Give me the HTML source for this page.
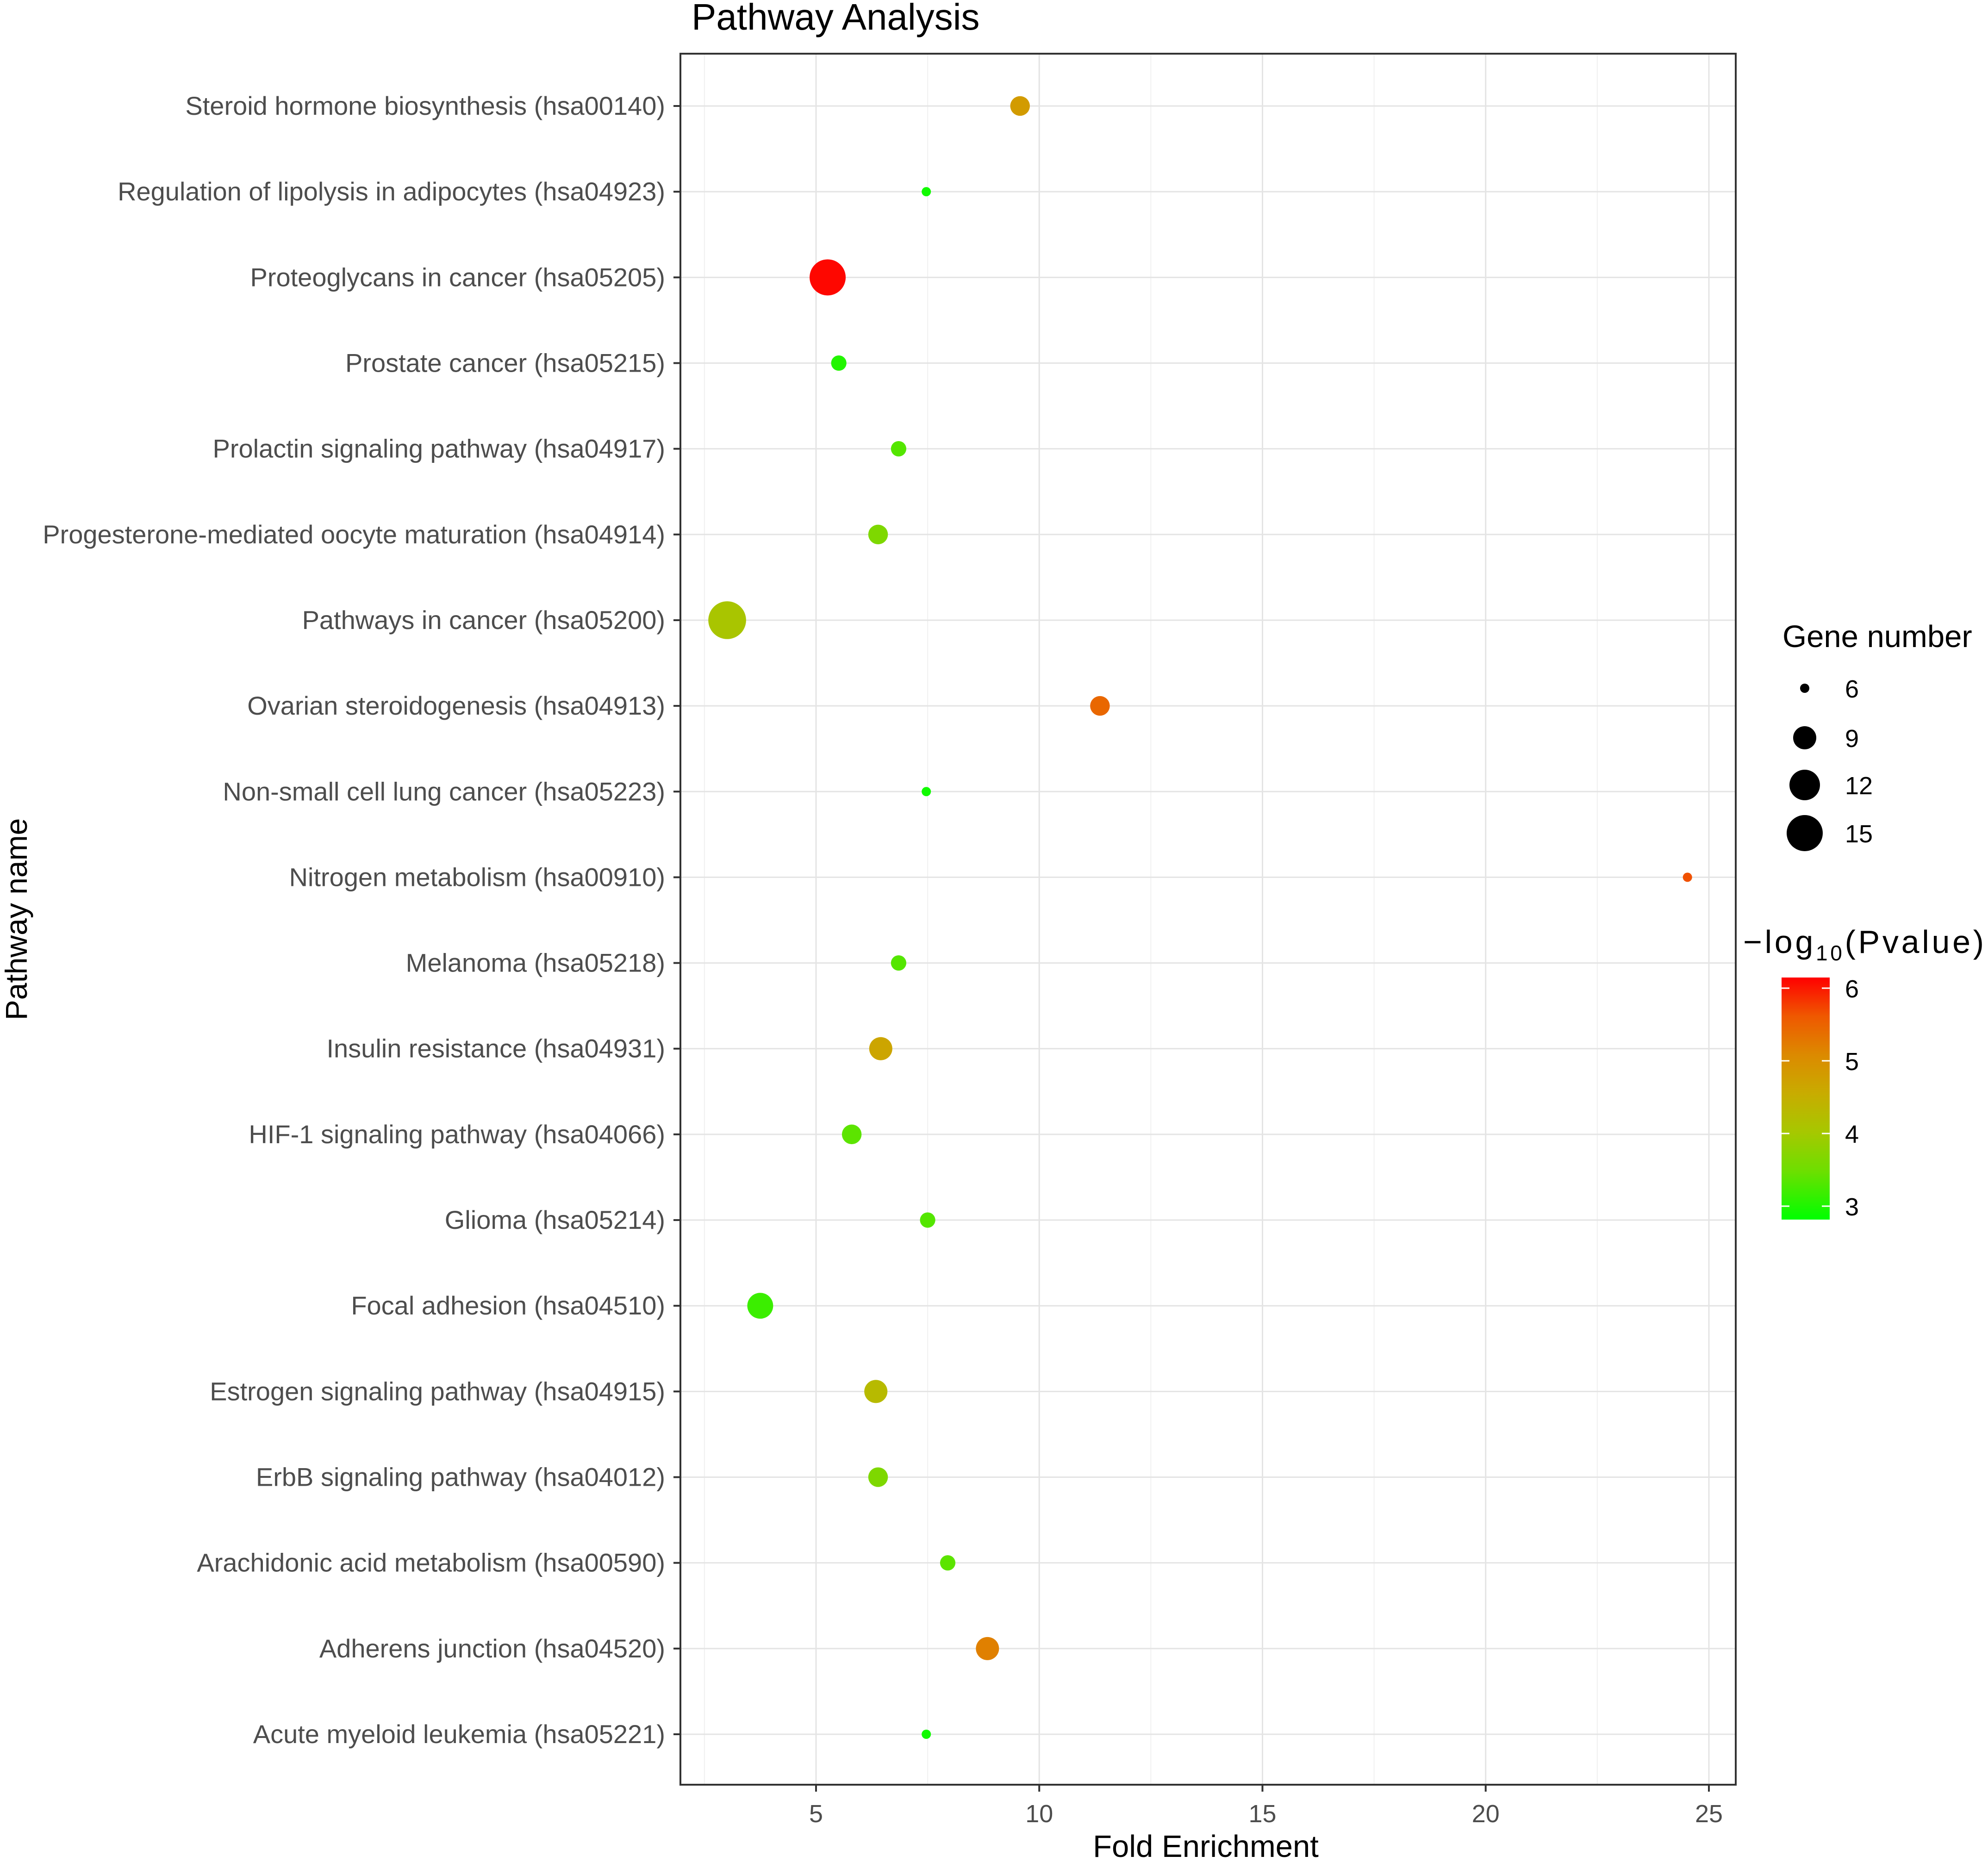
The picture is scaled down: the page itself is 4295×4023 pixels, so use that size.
<!DOCTYPE html>
<html><head><meta charset="utf-8"><style>
html,body{margin:0;padding:0;background:#fff;}
svg{display:block;font-family:"Liberation Sans",Arial,sans-serif;}
</style></head><body>
<svg id="chart" width="4295" height="4023" viewBox="0 0 4295 4023" xmlns="http://www.w3.org/2000/svg">
<defs>
<linearGradient id="cbar" x1="0" y1="1" x2="0" y2="0">
<stop offset="0" stop-color="#00ff00"/>
<stop offset="0.2" stop-color="#6ddf00"/>
<stop offset="0.36" stop-color="#a6c800"/>
<stop offset="0.52" stop-color="#c8ac00"/>
<stop offset="0.68" stop-color="#dc8a00"/>
<stop offset="0.84" stop-color="#ef5800"/>
<stop offset="1" stop-color="#ff0000"/>
</linearGradient>
</defs>
<text x="1494" y="64" font-size="80" fill="#000">Pathway Analysis</text>
<g id="grid"></g>
<g id="points"></g>
<rect x="1470" y="116" width="2280" height="3740" fill="none" stroke="#333" stroke-width="4"/>
<g id="yaxis"></g>
<g id="xaxis"></g>
<text x="2605" y="4012" font-size="67" text-anchor="middle" fill="#000">Fold Enrichment</text>
<text transform="translate(58,1986) rotate(-90)" font-size="66" text-anchor="middle" fill="#000">Pathway name</text>
<g>
<text x="3851" y="1398" font-size="67" fill="#000">Gene number</text>
<g id="sizeLegend"></g>
</g>
<g>
<text x="3766" y="2059" font-size="70" fill="#000" textLength="520">−log<tspan font-size="46" dy="16">10</tspan><tspan dy="-16">(Pvalue)</tspan></text>
<rect x="3849" y="2112" width="104" height="523" fill="url(#cbar)"/>
<g id="colorTicks"></g>
</g>
</svg>
<script>
const pathways = ["Steroid hormone biosynthesis (hsa00140)","Regulation of lipolysis in adipocytes (hsa04923)","Proteoglycans in cancer (hsa05205)","Prostate cancer (hsa05215)","Prolactin signaling pathway (hsa04917)","Progesterone-mediated oocyte maturation (hsa04914)","Pathways in cancer (hsa05200)","Ovarian steroidogenesis (hsa04913)","Non-small cell lung cancer (hsa05223)","Nitrogen metabolism (hsa00910)","Melanoma (hsa05218)","Insulin resistance (hsa04931)","HIF-1 signaling pathway (hsa04066)","Glioma (hsa05214)","Focal adhesion (hsa04510)","Estrogen signaling pathway (hsa04915)","ErbB signaling pathway (hsa04012)","Arachidonic acid metabolism (hsa00590)","Adherens junction (hsa04520)","Acute myeloid leukemia (hsa05221)"];
const foldEnrichment = [9.57,7.47,5.26,5.51,6.85,6.39,3.01,11.36,7.47,24.52,6.85,6.45,5.8,7.5,3.75,6.34,6.39,7.95,8.84,7.47];
const geneNumber = [8,6,15,7,7,8,16,8,6,6,7,9,8,7,10,9,8,7,9,6];
const negLogP = [4.75,2.95,6.1,3.05,3.35,3.65,4.05,5.35,2.95,5.55,3.35,4.6,3.4,3.35,3.2,4.25,3.65,3.4,5.1,2.95];
const xTicks = [5,10,15,20,25];
const xMinor = [2.5,7.5,12.5,17.5,22.5];
const sizeBreaks = [6,9,12,15];
const colorBreaks = [3,4,5,6];

const NS="http://www.w3.org/2000/svg";
function mk(tag,attrs,parent,text){const e=document.createElementNS(NS,tag);for(const k in attrs)e.setAttribute(k,attrs[k]);if(text!==undefined)e.textContent=text;parent.appendChild(e);return e;}
const X = v => 1763 + (v-5)*96.45;
const Y = i => 229 + i*(3747-229)/19;
const radR2 = [100,625,1089,1521];
function R(n){
  if(n<=6) return Math.sqrt(Math.max(100 - (6-n)*60, 30));
  if(n>=15) return Math.sqrt(1521 + (n-15)*144);
  for(let k=0;k<3;k++){ if(n<=sizeBreaks[k+1]){const t=(n-sizeBreaks[k])/(sizeBreaks[k+1]-sizeBreaks[k]);return Math.sqrt(radR2[k]+t*(radR2[k+1]-radR2[k]));}}
}
const cStops=[[2.85,[0,255,0]],[3.5,[109,223,0]],[4.0,[166,200,0]],[4.5,[200,172,0]],[5.0,[220,138,0]],[5.5,[239,88,0]],[6.15,[255,0,0]]];
function C(v){
  if(v<=cStops[0][0]) return 'rgb(0,255,0)';
  for(let k=0;k<cStops.length-1;k++){const a=cStops[k],b=cStops[k+1];if(v<=b[0]){const t=(v-a[0])/(b[0]-a[0]);const c=a[1].map((x,j)=>Math.round(x+t*(b[1][j]-x)));return 'rgb('+c.join(',')+')';}}
  return 'rgb(255,0,0)';
}
const grid=document.getElementById('grid');
xMinor.forEach(v=>{const l=mk('line',{x1:X(v),x2:X(v),y1:116,y2:3856,stroke:'#f0f0f0','stroke-width':2},grid);

});
xTicks.forEach(v=>{const l=mk('line',{x1:X(v),x2:X(v),y1:116,y2:3856,stroke:'#e4e4e4','stroke-width':3},grid);

});
pathways.forEach((p,i)=>{const l=mk('line',{x1:1470,x2:3750,y1:Y(i),y2:Y(i),stroke:'#e4e4e4','stroke-width':3},grid);

});
const ya=document.getElementById('yaxis');
pathways.forEach((p,i)=>{
  const t=mk('line',{x1:1455,x2:1470,y1:Y(i),y2:Y(i),stroke:'#333','stroke-width':4},ya);
  
  
  const tx=mk('text',{x:1437,y:Y(i)+19,'font-size':56,'text-anchor':'end',fill:'#4d4d4d'},ya,p);
  
  
});
const xa=document.getElementById('xaxis');
xTicks.forEach(v=>{
  const t=mk('line',{x1:X(v),x2:X(v),y1:3856,y2:3871,stroke:'#333','stroke-width':4},xa);
  
  
  const tx=mk('text',{x:X(v),y:3937,'font-size':54,'text-anchor':'middle',fill:'#4d4d4d'},xa,String(v));
  
  
});
const pts=document.getElementById('points');
pathways.forEach((p,i)=>{
  const c=mk('circle',{cx:X(foldEnrichment[i]),cy:Y(i),r:R(geneNumber[i]),fill:C(negLogP[i])},pts);
  
  
});
const sl=document.getElementById('sizeLegend');
const slY=[1487,1594,1696,1800];
sizeBreaks.forEach((n,k)=>{
  const c=mk('circle',{cx:3899,cy:slY[k],r:R(n),fill:'#000'},sl);
  
  
  const t=mk('text',{x:3986,y:slY[k]+20,'font-size':54,fill:'#000'},sl,String(n));
  
  
});
const ct=document.getElementById('colorTicks');
const CY=v=>2606-(v-3)*157;
colorBreaks.forEach(v=>{
  const a=mk('line',{x1:3849,x2:3866,y1:CY(v),y2:CY(v),stroke:'#fff','stroke-width':3},ct);
  
  
  const b=mk('line',{x1:3936,x2:3953,y1:CY(v),y2:CY(v),stroke:'#fff','stroke-width':3},ct);
  
  
  const t=mk('text',{x:3986,y:CY(v)+20,'font-size':54,fill:'#000'},ct,String(v));
  
  
});
</script>
</body></html>
